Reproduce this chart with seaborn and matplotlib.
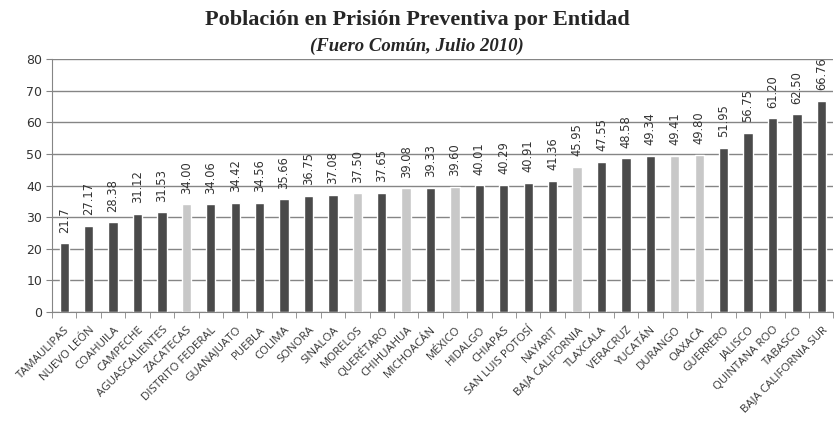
import numpy as np
import pandas as pd
import seaborn as sns
import matplotlib.pyplot as plt
from matplotlib.ticker import FixedLocator

# ===============================
# Data
# ===============================
entidades = ["TAMAULIPAS", "NUEVO LEÓN", "COAHUILA", "CAMPECHE", "AGUASCALIENTES",
             "ZACATECAS", "DISTRITO FEDERAL", "GUANAJUATO", "PUEBLA", "COLIMA",
             "SONORA", "SINALOA", "MORELOS", "QUERÉTARO", "CHIHUAHUA", "MICHOACÁN",
             "MÉXICO", "HIDALGO", "CHIAPAS", "SAN LUIS POTOSÍ", "NAYARIT",
             "BAJA CALIFORNIA", "TLAXCALA", "VERACRUZ", "YUCATÁN", "DURANGO",
             "OAXACA", "GUERRERO", "JALISCO", "QUINTANA ROO", "TABASCO",
             "BAJA CALIFORNIA SUR"]
valores = [21.7, 27.17, 28.38, 31.12, 31.53, 34.00, 34.06, 34.42, 34.56, 35.66,
           36.75, 37.08, 37.50, 37.65, 39.08, 39.33, 39.60, 40.01, 40.29, 40.91,
           41.36, 45.95, 47.55, 48.58, 49.34, 49.41, 49.80, 51.95, 56.75, 61.20,
           62.50, 66.76]
etiquetas = ["21.7"] + [f"{v:.2f}" for v in valores[1:]]
resaltadas = ["ZACATECAS", "MORELOS", "CHIHUAHUA", "MÉXICO", "BAJA CALIFORNIA",
              "DURANGO", "OAXACA"]

df = pd.DataFrame({"entidad": entidades, "valor": valores})
df["grupo"] = np.where(df["entidad"].isin(resaltadas), "claro", "oscuro")

# ===============================
# Plot
# ===============================
sns.set_style("white")
fig = plt.figure(figsize=(8.34, 4.23), dpi=100)
ax = fig.add_axes([0.0624, 0.2624, 0.937, 0.598])

sns.barplot(data=df, x="entidad", y="valor", hue="grupo",
            palette={"oscuro": "#4a4a4a", "claro": "#c8c8c8"},
            dodge=False, width=0.38, legend=False, ax=ax, saturation=1)

ax.set_ylim(0, 80)
ax.set_xlim(-0.5, len(entidades) - 0.5)
ax.set_yticks(range(0, 81, 10))
ax.yaxis.grid(True, color="#858585", linewidth=1.0)
ax.set_axisbelow(True)
for s in ["top", "right"]:
    ax.spines[s].set_visible(False)
ax.spines["left"].set_color("#858585")
ax.spines["bottom"].set_color("#858585")
ax.set_xlabel("")
ax.set_ylabel("")

ax.tick_params(axis="y", length=4, color="#858585", labelsize=9,
               labelcolor="#333333", pad=3, left=True)
ax.tick_params(axis="x", which="major", length=0, pad=9)
ax.xaxis.set_minor_locator(FixedLocator(np.arange(-0.5, len(entidades), 1)))
ax.tick_params(axis="x", which="minor", length=4, color="#858585", bottom=True)
ax.set_xticks(range(len(entidades)))
ax.set_xticklabels(entidades, rotation=45, ha="right", rotation_mode="anchor",
                   fontsize=8.2, color="#333333", family="Open Sans")

for i, (v, t) in enumerate(zip(valores, etiquetas)):
    ax.text(i, v + 3.4, t, rotation=90, ha="center", va="bottom",
            fontsize=8.3, color="#333333")

fig.text(0.5, 0.952, "Población en Prisión Preventiva por Entidad",
         ha="center", va="center", fontsize=16, fontweight="bold",
         family="Liberation Serif")
fig.text(0.5, 0.891, "(Fuero Común, Julio 2010)", ha="center", va="center",
         fontsize=13.5, fontweight="bold", style="italic", family="Liberation Serif")

fig.savefig("out.png", dpi=100)
